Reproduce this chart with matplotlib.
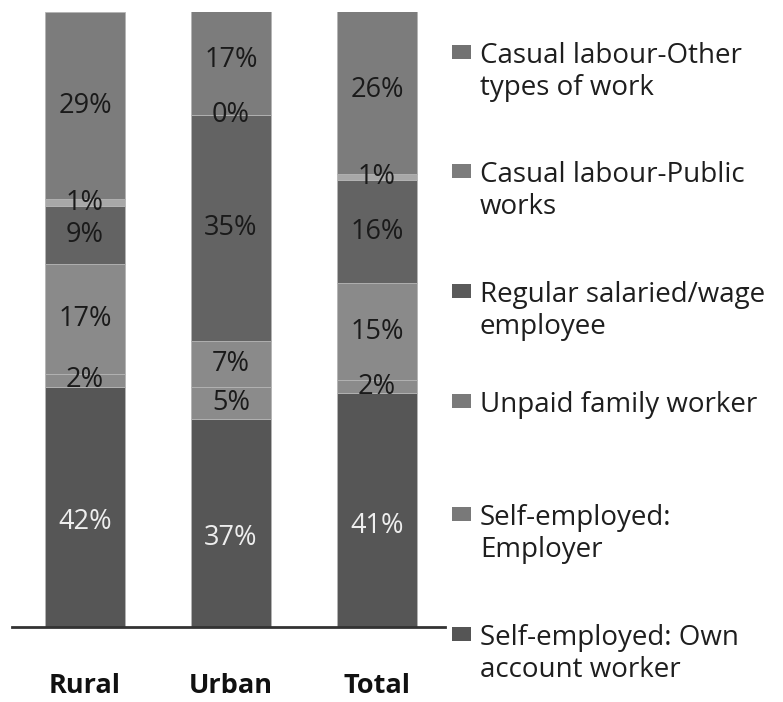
import matplotlib
matplotlib.use("Agg")
import matplotlib.pyplot as plt
from matplotlib.patches import Rectangle
import numpy as np

categories = ["Rural", "Urban", "Total"]
series_names = [
    "Self-employed: Own\naccount worker",
    "Self-employed:\nEmployer",
    "Unpaid family worker",
    "Regular salaried/wage\nemployee",
    "Casual labour-Public\nworks",
    "Casual labour-Other\ntypes of work",
]
own_account = [42, 37, 41]
employer = [2, 5, 2]
unpaid = [17, 7, 15]
regular = [9, 35, 16]
public_works = [1, 0, 1]
other = [29, 17, 26]
series_values = [own_account, employer, unpaid, regular, public_works, other]

colors = ["#565656", "#8b8b8b", "#8a8a8a", "#636363", "#a8a8a8", "#7c7c7c"]
legend_colors = ["#555555", "#797979", "#7a7a7a", "#5a5a5a", "#7c7c7c", "#727272"]
label_colors = ["#eeeeee", "#1a1a1a", "#1a1a1a", "#1a1a1a", "#1a1a1a", "#1a1a1a"]

plt.rcParams['font.family'] = ['Open Sans', 'DejaVu Sans']

W, H = 783, 702
fig = plt.figure(figsize=(W / 100, H / 100), dpi=100)
ax = fig.add_axes([12 / W, (H - 627) / H, (445 - 12) / W, (627 - 12) / H])

x = np.arange(len(categories))
bottom = np.zeros(len(categories))
for vals, col, lc in zip(series_values, colors, label_colors):
    vals = np.array(vals, dtype=float)
    ax.bar(x, vals, bottom=bottom, width=0.55, color=col,
           edgecolor="#b4b4b4", linewidth=0.6)
    for xi, b, v in zip(x, bottom, vals):
        ax.text(xi, b + v / 2, f"{int(v)}%", ha="center", va="center",
                fontsize=19.5, color=lc)
    bottom += vals

ax.set_xlim(-0.5, 2.466)
ax.set_ylim(4.8, 100)
for s in ["top", "right", "left"]:
    ax.spines[s].set_visible(False)
ax.spines["bottom"].set_color("#333333")
ax.spines["bottom"].set_linewidth(2)
ax.set_yticks([])
ax.set_xticks(x)
ax.set_xticklabels(categories, fontsize=19.5, fontweight="bold", color="#111111")
ax.tick_params(axis="x", length=0, pad=33)

# legend (top entry = last series), first-line baselines in pixels
legend_baselines = [63, 182, 302, 412, 525, 645]
line_pitch = 32
for i, base in enumerate(legend_baselines):
    idx = len(series_names) - 1 - i
    fig.patches.append(Rectangle((452 / W, 1 - (base - 4) / H), 19 / W, 14 / H,
                                 transform=fig.transFigure,
                                 facecolor=legend_colors[idx], edgecolor="none"))
    for j, line in enumerate(series_names[idx].split("\n")):
        fig.text(480 / W, 1 - (base + j * line_pitch) / H, line, ha="left",
                 va="baseline", fontsize=20, color="#1e1e1e")

fig.savefig("out.png", dpi=100)
